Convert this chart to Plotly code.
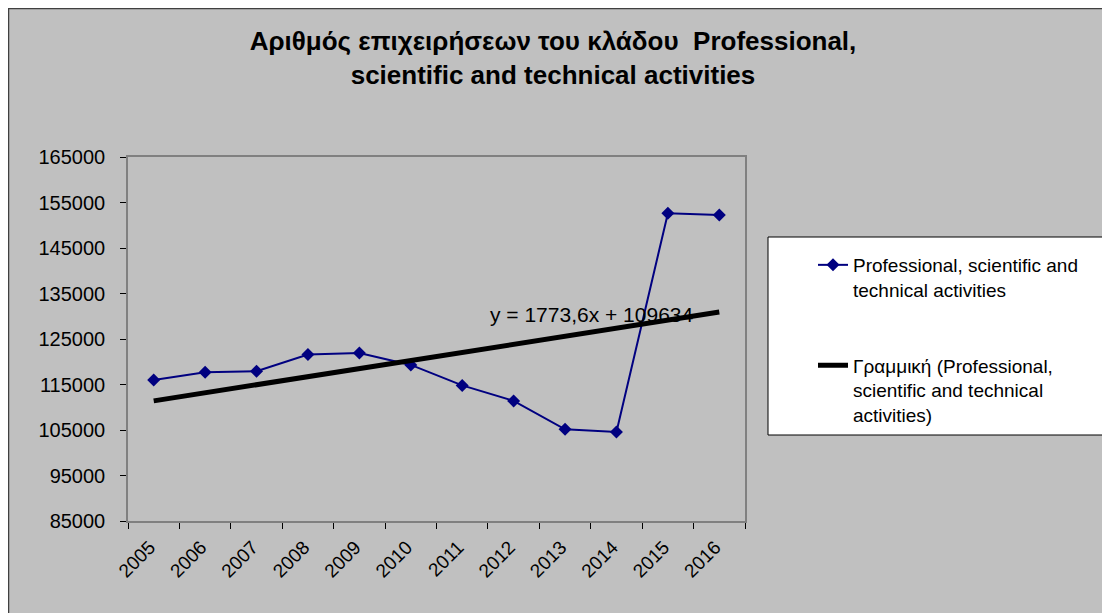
import plotly.graph_objects as go

years = ["2005", "2006", "2007", "2008", "2009", "2010",
         "2011", "2012", "2013", "2014", "2015", "2016"]
firms = [116000, 117700, 117900, 121600, 121900, 119300,
         114800, 111400, 105150, 104550, 152650, 152250]
trend_slope = 1773.6
trend_intercept = 109634
trend_label = "y = 1773,6x + 109634"
series_name = "Professional, scientific and<br>technical activities"
trend_name = "Γραμμική (Professional,<br>scientific and technical<br>activities)"
title_text = "Αριθμός επιχειρήσεων του κλάδου  Professional,<br>scientific and technical activities"
y_ticks = [85000, 95000, 105000, 115000, 125000, 135000, 145000, 155000, 165000]

trend_vals = [trend_slope * (i + 1) + trend_intercept for i in range(len(years))]

FONT = "Liberation Sans, Arial, sans-serif"
W, H = 1110, 613

# plot area in figure pixels
L, R, T, B = 120, 737, 149, 513
def px(x):
    return (x - L) / (R - L)
def py(y):
    return (B - y) / (B - T)

fig = go.Figure()
fig.add_trace(go.Scatter(
    x=years, y=firms, mode="lines+markers", name=series_name,
    line=dict(color="#000080", width=2),
    marker=dict(symbol="diamond", size=10, color="#000080"),
    legendgroup="a",
))
fig.add_trace(go.Scatter(
    x=years, y=trend_vals, mode="lines", name=trend_name,
    line=dict(color="#000000", width=5),
    legendgroup="b",
))

fig.add_annotation(
    x=8.52, y=130300, xref="x", yref="y", text=trend_label, showarrow=False,
    font=dict(family=FONT, size=21, color="#000000"),
)

shapes = [
    # outer chart frame
    dict(type="rect", xref="paper", yref="paper", layer="below",
         x0=px(0.5), x1=px(W + 20), y0=py(H + 20), y1=py(0.5),
         fillcolor="#C0C0C0", line=dict(color="#404040", width=1.5)),
    # legend box
    dict(type="rect", xref="paper", yref="paper", layer="below",
         x0=px(760), x1=px(1100), y0=py(427), y1=py(229),
         fillcolor="#FFFFFF", line=dict(color="#000000", width=1)),
]

fig.update_layout(
    width=W, height=H,
    margin=dict(l=L, r=W - R, t=T, b=H - B),
    paper_bgcolor="#C0C0C0",
    plot_bgcolor="#99CCFF",
    font=dict(family=FONT, size=19, color="#000000"),
    title=dict(text=title_text, x=545 / W, xref="container", xanchor="center",
               y=1 - 42 / H, yref="container", yanchor="top",
               font=dict(family=FONT, size=26, color="#000000", weight="bold")),
    shapes=shapes,
    showlegend=True,
    legend=dict(x=px(805), y=py(238), xanchor="left", yanchor="top",
                bgcolor="rgba(0,0,0,0)", borderwidth=0,
                valign="top", tracegroupgap=48, traceorder="grouped",
                font=dict(family=FONT, size=19, color="#000000")),
    xaxis=dict(type="category", range=[-0.5, 11.5], tickson="boundaries",
               ticks="outside", ticklen=6, tickcolor="#000000",
               ticklabelstandoff=6, ticklabelshift=-4,
               showline=True, linecolor="#808080", linewidth=1.5, mirror=True,
               showgrid=False, tickangle=-45,
               tickfont=dict(family=FONT, size=19)),
    yaxis=dict(range=[85000, 165000], tickvals=y_ticks,
               ticktext=[str(v) for v in y_ticks],
               ticks="outside", ticklen=6, tickcolor="#000000",
               ticklabelstandoff=11,
               showline=True, linecolor="#808080", linewidth=1.5, mirror=True,
               showgrid=False, zeroline=False,
               tickfont=dict(family=FONT, size=20)),
)

fig.write_html("out.html")
